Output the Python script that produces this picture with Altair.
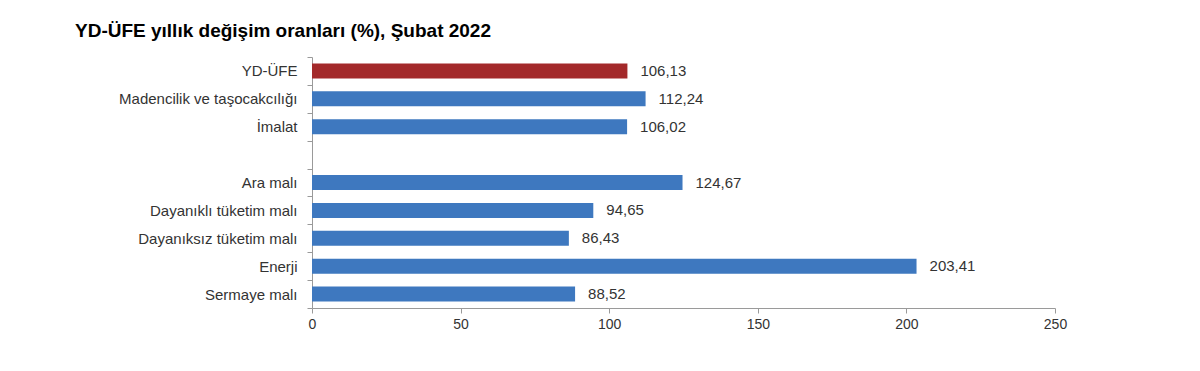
import altair as alt
import pandas as pd

categories = ["YD-ÜFE", "Madencilik ve taşocakcılığı", "İmalat", " ",
              "Ara malı", "Dayanıklı tüketim malı", "Dayanıksız tüketim malı",
              "Enerji", "Sermaye malı"]
values = [106.13, 112.24, 106.02, None, 124.67, 94.65, 86.43, 203.41, 88.52]
groups = ["total", "sector", "sector", "none", "main", "main", "main", "main", "main"]
x_ticks = [0, 50, 100, 150, 200, 250]

labels = [("" if v is None else f"{v:.2f}".replace(".", ",")) for v in values]
df = pd.DataFrame({"cat": categories, "val": values, "grp": groups, "lbl": labels})

FONT = "Liberation Sans"

y_enc = alt.Y("cat:N", sort=categories, title=None,
              scale=alt.Scale(paddingInner=0, paddingOuter=0),
              axis=alt.Axis(tickBand="extent", labelFontSize=15, labelFont=FONT,
                            labelColor="#333333", domainColor="#9a9a9a",
                            tickColor="#9a9a9a", tickSize=5, labelPadding=10,
                            labelLimit=400))

x_enc = alt.X("val:Q", title=None,
              scale=alt.Scale(domain=[0, 250], nice=False),
              axis=alt.Axis(values=x_ticks, grid=False, labelFontSize=14,
                            labelFont=FONT, labelColor="#333333", labelFlush=False,
                            domainColor="#9a9a9a", tickColor="#9a9a9a",
                            tickSize=5, labelPadding=4))

bars = alt.Chart(df).mark_bar(size=15).encode(
    y=y_enc,
    x=x_enc,
    color=alt.Color("grp:N",
                    scale=alt.Scale(domain=["total", "sector", "main", "none"],
                                    range=["#A3292A", "#3E78BF", "#3E78BF", "#3E78BF"]),
                    legend=None),
)

text = alt.Chart(df).mark_text(align="left", baseline="middle", dx=13,
                               fontSize=15, font=FONT, color="#333333").encode(
    y=alt.Y("cat:N", sort=categories),
    x=alt.X("val:Q"),
    text="lbl:N",
)

chart = (bars + text).properties(
    width=743, height=251,
    title=alt.TitleParams("YD-ÜFE yıllık değişim oranları (%), Şubat 2022",
                          anchor="start", frame="group", dx=-237, dy=22, offset=16,
                          baseline="alphabetic",
                          fontSize=19, font=FONT, fontWeight="bold", color="#000000"),
    autosize=alt.AutoSizeParams(type="none"),
    padding={"left": 304, "top": 49, "right": 137, "bottom": 55},
    background="white",
).configure_view(stroke=None)

chart.save("out.html", embed_options={"renderer": "svg", "actions": False})
